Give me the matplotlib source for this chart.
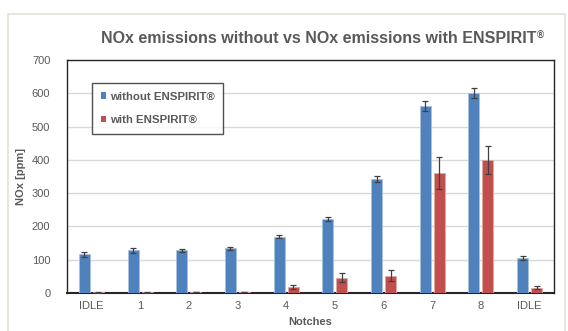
import matplotlib
matplotlib.use("Agg")
import matplotlib.pyplot as plt
import numpy as np
from matplotlib.patches import Rectangle

plt.rcParams['font.family'] = ['Liberation Sans', 'DejaVu Sans']

categories = ["IDLE", "1", "2", "3", "4", "5", "6", "7", "8", "IDLE"]
without_vals = [116, 128, 128, 134, 169, 222, 343, 562, 602, 106]
without_err = [8, 7, 5, 4, 5, 6, 9, 14, 15, 6]
with_vals = [2, 2, 3, 3, 17, 46, 52, 361, 400, 16]
with_err = [1, 1, 1, 1, 6, 13, 17, 48, 43, 5]
y_ticks = [0, 100, 200, 300, 400, 500, 600, 700]

blue = "#4F81BD"
red = "#C0504D"
gray = "#595959"

fig = plt.figure(figsize=(5.68, 3.31), dpi=100)
fig.patches.append(Rectangle((8/568, -0.1), (565-8)/568, 1.1 - 14/331,
                             transform=fig.transFigure, fill=False,
                             edgecolor="#E6E2D6", linewidth=1.2))
ax = fig.add_axes([67/568, 1 - 293/331, (554-67)/568, (293-60)/331])

x = np.arange(len(categories))
w = 0.226
off = 0.143
ax.bar(x - off, without_vals, w, color=blue, edgecolor="#A9C0DE", linewidth=0.6,
       yerr=without_err, error_kw=dict(ecolor="#404040", elinewidth=0.9, capsize=2.5, capthick=0.9),
       label="without ENSPIRIT®", zorder=3)
ax.bar(x + off, with_vals, w, color=red, edgecolor="#E0A8A6", linewidth=0.6,
       yerr=with_err, error_kw=dict(ecolor="#404040", elinewidth=0.9, capsize=2.5, capthick=0.9),
       label="with ENSPIRIT®", zorder=3)

ax.set_xlim(-0.5, len(categories) - 0.5)
ax.set_ylim(0, 700)
ax.set_yticks(y_ticks)
ax.set_xticks(x)
ax.set_xticklabels(categories)
ax.tick_params(axis='x', length=0, labelsize=8, colors=gray, pad=6)
ax.tick_params(axis='y', length=0, labelsize=8, colors=gray, pad=12)
ax.yaxis.grid(True, color="#D9D9D9", linewidth=1.0, zorder=0)
ax.set_axisbelow(True)
for s in ['left', 'top', 'right']:
    ax.spines[s].set_color("#262626")
    ax.spines[s].set_linewidth(1.0)
ax.spines['bottom'].set_color("#262626")
ax.spines['bottom'].set_linewidth(1.5)

ax.set_ylabel("NOx [ppm]", fontsize=8, fontweight='bold', color=gray, labelpad=4)
ax.set_xlabel("Notches", fontsize=8, fontweight='bold', color=gray, labelpad=4)

title = fig.text(319/568, 1 - 43/331, "NOx emissions without vs NOx emissions with ENSPIRIT",
                 ha='center', va='baseline', fontsize=11.5, fontweight='bold', color=gray)
fig.canvas.draw()
bb = title.get_window_extent(renderer=fig.canvas.get_renderer())
fig.text((bb.x1 + 0.5) / fig.bbox.width, 1 - 39/331, "®",
         ha='left', va='baseline', fontsize=7, fontweight='bold', color=gray)

leg = ax.legend(loc='upper left', bbox_to_anchor=((92-67)/487, (293-83)/233),
                fontsize=8.2, frameon=True, fancybox=False, handlelength=0.5,
                handleheight=0.5, handletextpad=0.3, labelspacing=1.2,
                borderpad=0.75, borderaxespad=0)
leg.get_frame().set_edgecolor("#262626")
leg.get_frame().set_linewidth(1.0)
for t in leg.get_texts():
    t.set_fontweight('bold')
    t.set_color(gray)
for h in leg.legend_handles:
    h.set_edgecolor('none')

fig.savefig("out.png", dpi=100)
